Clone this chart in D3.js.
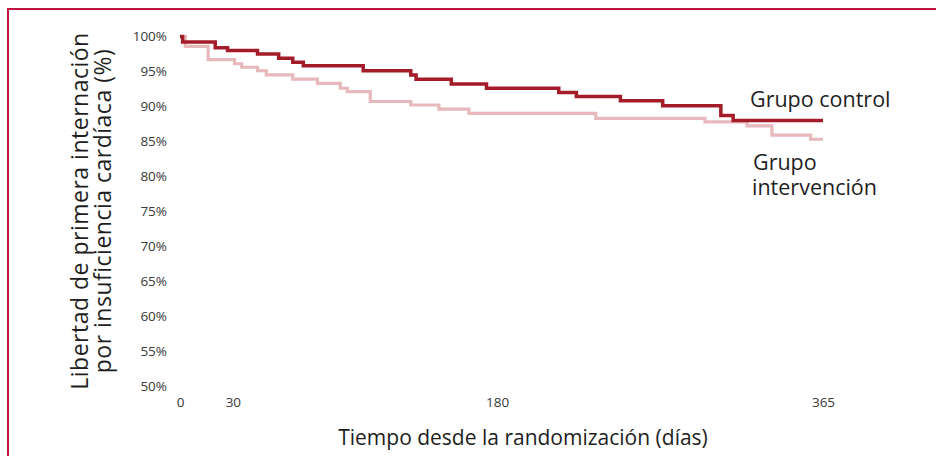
<!DOCTYPE html>
<html>
<head>
<meta charset="utf-8">
<script src="https://cdn.jsdelivr.net/npm/d3@7"></script>
<style>
  body { margin: 0; background: #fff; }
  svg text { font-family: "Open Sans", "Noto Sans", sans-serif; }
</style>
</head>
<body>
<div id="canvas"></div>
<script>
// survival steps: [day, % free of first admission]
var controlSteps = [
  [0, 100], [1.5, 99.2], [20, 98.4], [27, 98.0], [44, 97.5], [56, 96.9],
  [64, 96.3], [70, 95.8], [104, 95.1], [131, 94.5], [134, 93.9], [154, 93.2],
  [174, 92.6], [215, 92.0], [225, 91.4], [250, 90.8], [274, 90.1], [307, 88.7],
  [314, 88.0], [365, 88.0]
];
var interventionSteps = [
  [0, 100], [3, 98.6], [16, 96.7], [31, 96.1], [35, 95.6], [44, 95.1],
  [49, 94.5], [64, 93.9], [78, 93.3], [91, 92.6], [95, 92.1], [108, 90.7],
  [131, 90.2], [147, 89.6], [164, 89.0], [236, 88.3], [298, 87.8], [322, 87.2],
  [336, 85.9], [358, 85.3], [365, 85.3]
];
var yTicks = [100, 95, 90, 85, 80, 75, 70, 65, 60, 55, 50];
var xTicks = [0, 30, 180, 365];
var yTitle = ['Libertad de primera internación', 'por insuficiencia cardíaca (%)'];
var xTitle = 'Tiempo desde la randomización (días)';

var W = 936, H = 456;
var svg = d3.select('#canvas').append('svg').attr('width', W).attr('height', H);

// frame: only top and left edges show in the crop
svg.append('path').attr('d', 'M8,' + H + 'V9H' + W)
  .attr('fill', 'none').attr('stroke', '#be1540').attr('stroke-width', 2);

var x = d3.scaleLinear().domain([0, 365]).range([180, 823]);
var y = d3.scaleLinear().domain([50, 100]).range([386, 36.5]);

// y axis: labels only
var gy = svg.append('g').attr('transform', 'translate(167,0)')
  .call(d3.axisLeft(y).tickValues(yTicks).tickSize(0).tickPadding(0).tickFormat(function(d){ return d + '%'; }));
gy.select('.domain').remove();
gy.selectAll('text').attr('font-size', 13.5).attr('fill', '#3a3a3a').attr('font-family', '"Open Sans", sans-serif');

// x axis: labels only
var gx = svg.append('g').attr('transform', 'translate(0,397)')
  .call(d3.axisBottom(x).tickValues(xTicks).tickSize(0).tickPadding(0));
gx.select('.domain').remove();
gx.selectAll('text').attr('font-size', 13.5).attr('fill', '#3a3a3a').attr('font-family', '"Open Sans", sans-serif');

var line = d3.line().x(function(d){ return x(d[0]); }).y(function(d){ return y(d[1]); })
  .curve(d3.curveStepAfter);

svg.append('path').datum(interventionSteps).attr('d', line)
  .attr('fill', 'none').attr('stroke', '#e7b8bc').attr('stroke-width', 3.2);
svg.append('path').datum(controlSteps).attr('d', line)
  .attr('fill', 'none').attr('stroke', '#a51c29').attr('stroke-width', 3.5);

// titles
var yt = svg.append('text').attr('transform', 'translate(0,211) rotate(-90)')
  .attr('text-anchor', 'middle').attr('font-size', 23).attr('letter-spacing', 0.5).attr('fill', '#1e1e1e');
yt.append('tspan').attr('x', 0).attr('y', 88).text(yTitle[0]);
yt.append('tspan').attr('x', 0).attr('y', 111).text(yTitle[1]);

svg.append('text').attr('x', 523).attr('y', 445).attr('text-anchor', 'middle')
  .attr('font-size', 21).attr('fill', '#1e1e1e').text(xTitle);

// series labels
svg.append('text').attr('x', 750).attr('y', 107).attr('font-size', 21.5).attr('fill', '#1e1e1e').text('Grupo control');
var it = svg.append('text').attr('font-size', 21.5).attr('fill', '#1e1e1e');
it.append('tspan').attr('x', 753).attr('y', 170).text('Grupo');
it.append('tspan').attr('x', 752).attr('y', 195).text('intervención');
</script>
</body>
</html>
